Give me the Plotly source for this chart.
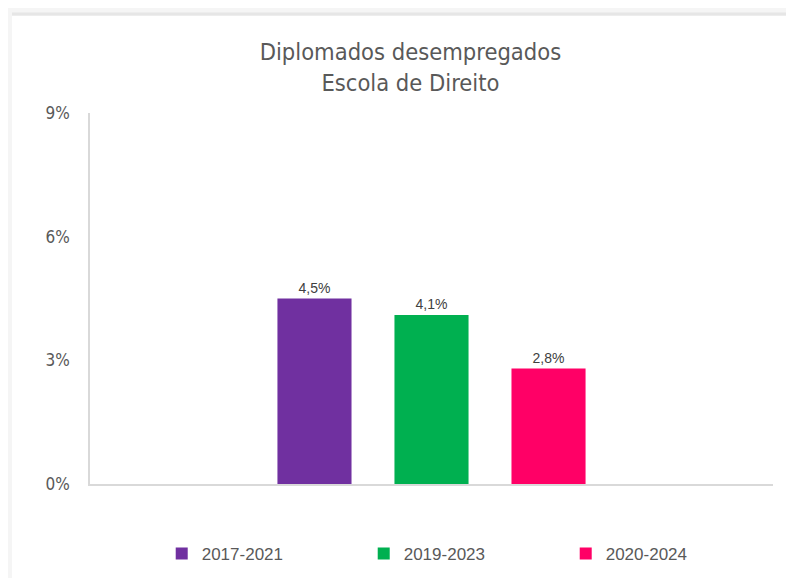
import plotly.graph_objects as go

categories = ["Escola de Direito"]
series_names = ["2017-2021", "2019-2023", "2020-2024"]
series_values = [4.5, 4.1, 2.8]
series_colors = ["#7030A0", "#00B050", "#FF0066"]
y_ticks = [0, 3, 6, 9]
y_tick_labels = ["0%", "3%", "6%", "9%"]

title_font = "DejaVu Sans Condensed, Liberation Sans Narrow, Roboto Condensed, sans-serif"

fig = go.Figure()
for name, val, col in zip(series_names, series_values, series_colors):
    fig.add_trace(go.Bar(
        x=categories, y=[val], name=name,
        marker=dict(color=col, line=dict(width=0)),
        text=[f"{val:.1f}%".replace(".", ",")],
        textposition="outside",
        textfont=dict(family="Liberation Sans, Arial, sans-serif", size=14, color="#404040"),
        cliponaxis=False,
    ))

# card background with shadow edges
fig.add_shape(type="rect", xref="paper", yref="paper",
              x0=-0.1142, x1=1.04, y0=-0.3, y1=1.2615,
              fillcolor="white", line=dict(width=0), layer="below")
fig.add_shape(type="line", xref="paper", yref="paper",
              x0=-0.1142, x1=1.04, y0=1.2670, y1=1.2670,
              line=dict(color="#e6e6e6", width=3), layer="below")

fig.update_layout(
    width=786, height=570,
    paper_bgcolor="#f5f5f5",
    plot_bgcolor="white",
    margin=dict(l=82, r=21, t=105, b=94, autoexpand=False),
    title=dict(text="Diplomados desempregados<br>Escola de Direito",
               x=0.512, xanchor="center", y=0.9085, yanchor="middle",
               font=dict(family=title_font, size=23.5, color="#595959")),
    barmode="group",
    bargap=0.486,
    bargroupgap=0.367,
    showlegend=True,
    legend=dict(orientation="h", x=0.105, xanchor="left", y=-0.1887, yanchor="middle",
                font=dict(family="Liberation Sans, Arial, sans-serif", size=17, color="#595959"),
                entrywidth=157, entrywidthmode="pixels", itemwidth=30,
                bgcolor="rgba(0,0,0,0)"),
    xaxis=dict(showticklabels=False, showline=True, linecolor="#d9d9d9", linewidth=1.5,
               ticks="", showgrid=False, zeroline=False),
    yaxis=dict(range=[0, 9], tickvals=y_ticks, ticktext=y_tick_labels,
               showline=True, linecolor="#d9d9d9", linewidth=1.5,
               showgrid=False, zeroline=False, ticks="",
               ticklabelstandoff=15,
               tickfont=dict(family=title_font, size=17, color="#595959")),
)

fig.write_html("out.html")
